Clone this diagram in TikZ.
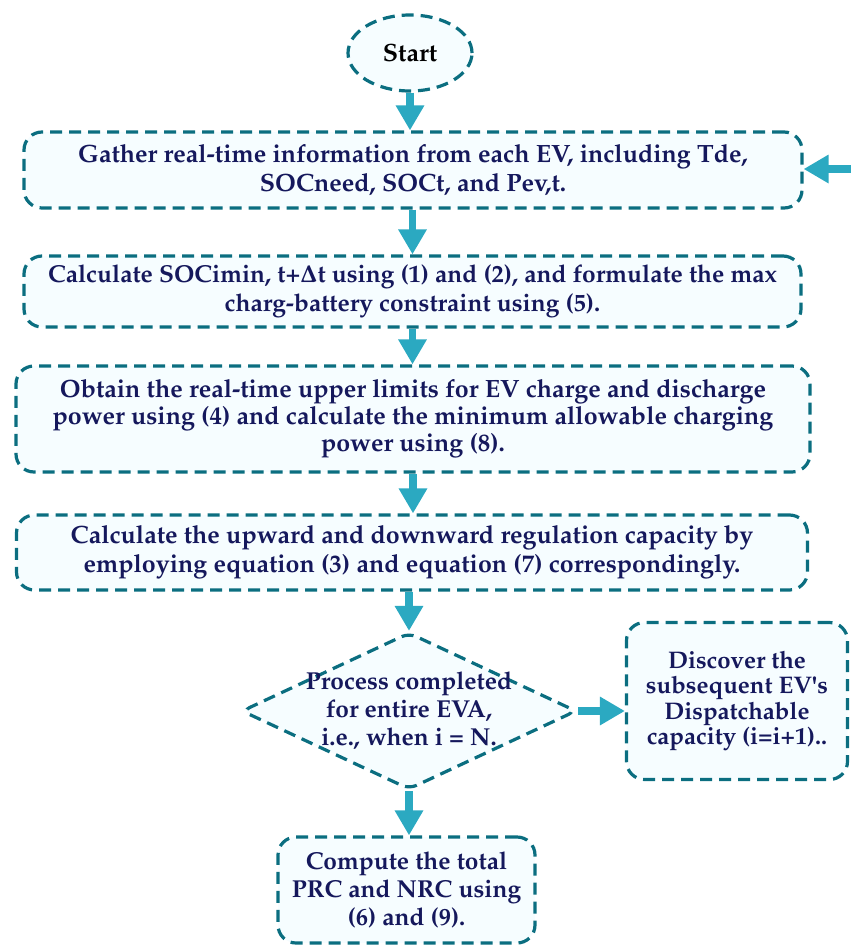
\documentclass[tikz,border=0pt]{standalone}
\usepackage[T1]{fontenc}
\usepackage{mathpazo}
\usepackage{xcolor}
\usetikzlibrary{shapes,arrows.meta}
\definecolor{rand}{HTML}{0B6E80}
\definecolor{pfeilblau}{HTML}{2BA9C1}
\definecolor{schrift}{HTML}{15185C}
\definecolor{fuell}{HTML}{F6FDFF}

\begin{document}
\begin{tikzpicture}[x=1pt, y=-1pt,
				kasten/.style={draw=rand, fill=fuell, dash pattern=on 12pt off 7pt, line width=3.2pt,
					rounded corners=18pt, align=center, text=schrift, inner sep=0pt,
					font=\bfseries\fontsize{25}{29}\selectfont},
				startknoten/.style={kasten, ellipse, text=black},
				abfrage/.style={kasten, diamond, rounded corners=8pt, inner sep=-14pt, aspect=2.1,
					font=\bfseries\fontsize{24.5}{28}\selectfont},
				pfeil/.style={-{Triangle[width=27pt,length=25pt]}, line width=7.5pt, draw=pfeilblau}]
				%Bildbereich
				\useasboundingbox (0,0) rectangle (851,945);
				%Knoten setzen
				\node[startknoten, minimum width=124pt, minimum height=76pt] (start) at (410,53) {Start};
				\node[kasten, minimum width=778pt, minimum height=76pt] (gather) at (413,170)
					{Gather real-time information from each EV, including Tde,\\ SOCneed, SOCt, and Pev,t.};
				\node[kasten, minimum width=777pt, minimum height=71pt, font=\bfseries\fontsize{24.5}{29}\selectfont] (socmin) at (412.5,291.5)
					{Calculate SOCimin, t+{\boldmath$\Delta$}t using (1) and (2), and formulate the max\\ charg-battery constraint using (5).};
				\node[kasten, minimum width=794pt, minimum height=106pt, font=\bfseries\fontsize{25}{27}\selectfont] (limits) at (413,419)
					{Obtain the real-time upper limits for EV charge and discharge\\ power using (4) and calculate the minimum allowable charging\\ power using (8).};
				\node[kasten, minimum width=791pt, minimum height=75pt] (regcap) at (412,552.5)
					{Calculate the upward and downward regulation capacity by\\ employing equation (3) and equation (7) correspondingly.};
				\node[abfrage, minimum width=335pt, minimum height=157pt] (check) at (409,711)
					{Process completed\\ for entire EVA,\\ i.e., when i = N.};
				\node[kasten, minimum width=221pt, minimum height=157pt, font=\bfseries\fontsize{24}{25.5}\selectfont] (next) at (737,701)
					{Discover the\\ subsequent EV\textquotesingle s\\ Dispatchable\\ capacity (i=i+1)..};
				\node[kasten, minimum width=257pt, minimum height=106pt, font=\bfseries\fontsize{24.5}{28}\selectfont] (total) at (406.5,890)
					{Compute the total\\ PRC and NRC using\\ (6) and (9).};
				\coordinate (rueck) at (851,169);
				%Pfeile zeichnen
				\draw[pfeil] (start.south) -- (start.south |- gather.north);
				\draw[pfeil] (socmin.north |- gather.south) -- (socmin.north);
				\draw[pfeil] (socmin.south) -- (socmin.south |- limits.north);
				\draw[pfeil] (limits.south) -- (limits.south |- regcap.north);
				\draw[pfeil] (check.north |- regcap.south) -- (check.north);
				\draw[pfeil] (check.east) -- (check.east -| next.west);
				\draw[pfeil] (check.south) -- (check.south |- total.north);
				\draw[pfeil] (rueck) -- (rueck -| gather.east);
			\end{tikzpicture}
\end{document}
